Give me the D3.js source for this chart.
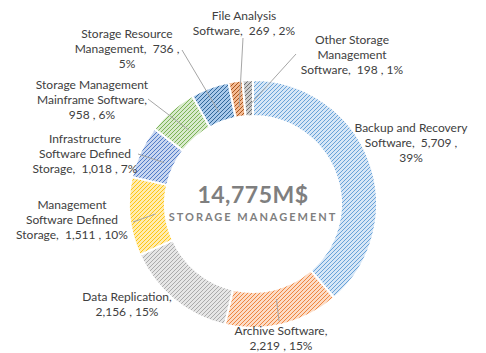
<!DOCTYPE html>
<html>
<head>
<meta charset="utf-8">
<script src="https://cdn.jsdelivr.net/npm/d3@7"></script>
<style>
	body{margin:0;background:#fff;}
	svg text{font-family:Lato, "Liberation Sans", sans-serif;white-space:pre;}
</style>
</head>
<body>
<div id="chart"></div>
<script>
var categories = [
	'Backup and Recovery Software',
	'Archive Software',
	'Data Replication',
	'Management Software Defined Storage',
	'Infrastructure Software Defined Storage',
	'Storage Management Mainframe Software',
	'Storage Resource Management',
	'File Analysis Software',
	'Other Storage Management Software'
];
var values = [5709, 2219, 2156, 1511, 1018, 958, 736, 269, 198];
var totalLabel = '14,775M$';
var subtitle = 'STORAGE MANAGEMENT';

// words that start a new line in each label
var lineStarts = [
	['Software,', '39%'],
	['2,219'],
	['2,156'],
	['Software', 'Storage,'],
	['Software', 'Storage,'],
	['Mainframe', '958'],
	['Management,', '5%'],
	['Software,'],
	['Management', 'Software,']
];

var lineColors = ['#5b9bd5', '#ed7d31', '#a5a5a5', '#ffc000', '#4472c4', '#70ad47', '#255e91', '#9e480e', '#636363'];
var backColors = ['#d6e6f6', '#fcdcc6', '#e6e6e6', '#ffecb0', '#c8d6f0', '#d8eacc', '#a9c9ea', '#f4ba92', '#cccccc'];

var width = 486;
var height = 353;
var cx = 253;
var cy = 204;
var outerRadius = 124;
var innerRadius = 88;

// label centre (first line) and leader start, by slice
var labelSpots = [
	{x: 411, y: 128, lx: null},
	{x: 281, y: 331, lx: 279, ly: 321},
	{x: 127, y: 297, lx: null},
	{x: 72, y: 205, lx: 133, ly: 222},
	{x: 85, y: 139, lx: 138, ly: 154},
	{x: 92, y: 85, lx: 148, ly: 99},
	{x: 127, y: 34, lx: 182, ly: 50},
	{x: 244, y: 16, lx: 243, ly: 38},
	{x: 352, y: 40, lx: 296, ly: 54}
];
var lineHeight = 15;

var svg = d3.select('#chart')
	.append('svg')
	.attr('width', width)
	.attr('height', height);

var defs = svg.append('defs');
for(var i = 0; i < values.length; i++){
	var p = defs.append('pattern')
		.attr('id', 'hatch' + i)
		.attr('patternUnits', 'userSpaceOnUse')
		.attr('width', 4)
		.attr('height', 4);
	p.append('rect')
		.attr('width', 4)
		.attr('height', 4)
		.attr('fill', backColors[i]);
	p.append('path')
		.attr('d', 'M-1,1 l2,-2 M0,4 l4,-4 M3,5 l2,-2')
		.attr('stroke', lineColors[i])
		.attr('stroke-width', 0.9);
}

var total = d3.sum(values);
var pie = d3.pie().sort(null).value(function(d){ return d; });
var arcs = pie(values);
var arc = d3.arc().innerRadius(innerRadius).outerRadius(outerRadius);

var g = svg.append('g').attr('transform', 'translate(' + cx + ',' + cy + ')');

g.selectAll('path.slice')
	.data(arcs)
	.enter()
	.append('path')
	.attr('class', 'slice')
	.attr('d', arc)
	.attr('fill', function(d, i){ return 'url(#hatch' + i + ')'; })
	.attr('stroke', '#fff')
	.attr('stroke-width', 2);

// leader lines
var leaderArc = d3.arc().innerRadius(innerRadius + 10).outerRadius(innerRadius + 10);
for(var i = 0; i < arcs.length; i++){
	var s = labelSpots[i];
	if(s.lx === null) continue;
	var c = leaderArc.centroid(arcs[i]);
	svg.append('line')
		.attr('x1', s.lx)
		.attr('y1', s.ly)
		.attr('x2', cx + c[0])
		.attr('y2', cy + c[1])
		.attr('stroke', '#a6a6a6')
		.attr('stroke-width', 1);
}

var fmt = d3.format(',');
var labelLines = function(i){
	var pct = Math.round(values[i] / total * 100);
	var full = categories[i] + ',  ' + fmt(values[i]) + ' , ' + pct + '%';
	var lines = [];
	var rest = full;
	lineStarts[i].forEach(function(w){
		var k = rest.indexOf(' ' + w);
		lines.push(rest.slice(0, k).trim());
		rest = rest.slice(k).trim();
	});
	lines.push(rest);
	return lines;
};

for(var i = 0; i < values.length; i++){
	var t = svg.append('text')
		.attr('text-anchor', 'middle')
		.attr('fill', '#404040')
		.style('font-size', '12px');
	labelLines(i).forEach(function(line, j){
		t.append('tspan')
			.attr('x', labelSpots[i].x)
			.attr('y', labelSpots[i].y + j * lineHeight)
			.attr('dy', '0.35em')
			.text(line);
	});
}

svg.append('text')
	.attr('x', cx)
	.attr('y', 203)
	.attr('text-anchor', 'middle')
	.attr('fill', '#7f7f7f')
	.style('font-size', '23px')
	.style('font-weight', 'bold')
	.style('letter-spacing', '0.5px')
	.text(totalLabel);

svg.append('text')
	.attr('x', cx)
	.attr('y', 221)
	.attr('text-anchor', 'middle')
	.attr('fill', '#7f7f7f')
	.style('font-size', '11px')
	.style('font-weight', 'bold')
	.style('letter-spacing', '2px')
	.text(subtitle);
</script>
</body>
</html>
